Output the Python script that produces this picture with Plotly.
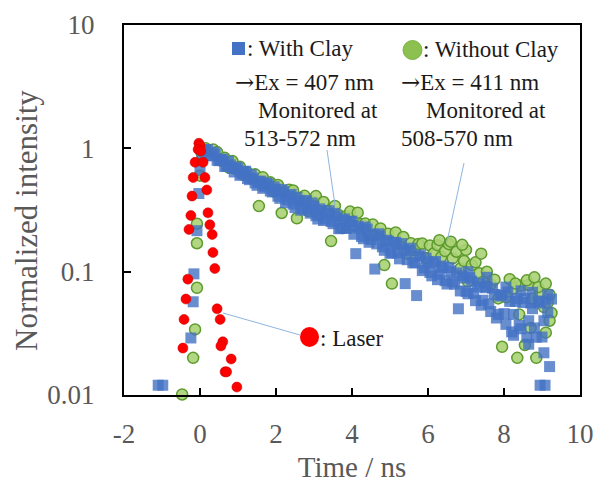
import plotly.graph_objects as go

# ---------------- data ----------------
laser_x = [-0.03, 0.0, -0.05, 0.02, -0.13, 0.08, -0.18, 0.13, 0.18, -0.21, -0.24, 0.21,
           0.26, -0.29, 0.32, 0.34, 0.39, -0.32, -0.37, 0.45, 0.53, -0.42, 0.6, 0.55,
           -0.45, 0.82, 0.66, 0.7, 0.97]
laser_y = [1.1, 1.05, 0.98, 0.95, 0.77, 0.77, 0.58, 0.58, 0.46, 0.41, 0.285, 0.30,
           0.24, 0.22, 0.20, 0.143, 0.106, 0.087, 0.060, 0.050, 0.041, 0.041, 0.027, 0.025,
           0.024, 0.0196, 0.0154, 0.0154, 0.0116]

clay_x = [-1.1, -0.98, -0.24, -0.18, -0.16, -0.08, -0.03, 0.0, 0.05,
          0.1, 0.2, 0.3, 0.4, 0.5, 0.6, 0.7, 0.8, 0.9, 1.0,
          1.1, 1.2, 1.3, 1.4, 1.5, 1.6, 1.7, 1.8, 1.9, 2.0,
          2.1, 2.2, 2.3, 2.4, 2.5, 2.6, 2.7, 2.8, 2.9, 3.0,
          3.1, 3.2, 3.3, 3.4, 3.5, 3.6, 3.7, 3.8, 3.9, 4.0,
          4.1, 4.2, 4.3, 4.4, 4.5, 4.6, 4.7, 4.8, 4.9, 5.0,
          5.1, 5.2, 5.3, 5.4, 5.5, 5.6, 5.7, 5.8, 5.9, 6.0,
          6.1, 6.2, 6.3, 6.4, 6.5, 6.6, 6.7, 6.8, 6.9, 7.0,
          7.1, 7.2, 7.3, 7.4, 7.5, 7.6, 7.7, 7.8, 7.9, 8.0,
          8.1, 8.2, 8.3, 8.4, 8.5, 8.6, 8.7, 8.8, 8.9, 9.0,
          9.1, 9.2,
          0.15, 0.25, 0.35, 0.45, 0.55, 0.65, 0.75, 0.85, 0.95, 1.05,
          1.15, 1.25, 1.35, 1.45, 1.55, 1.65, 1.75, 1.85, 1.95, 2.05,
          2.15, 2.25, 2.35, 2.45, 2.55, 2.65, 2.75, 2.85, 2.95, 3.05,
          3.15, 3.25, 3.35, 3.45, 3.55, 3.65, 3.75, 3.85, 3.95, 4.05,
          4.15, 4.25, 4.35, 4.45, 4.55, 4.65, 4.75, 4.85, 4.95, 5.05,
          5.15, 5.25, 5.35, 5.45, 5.55, 5.65, 5.75, 5.85, 5.95, 6.05,
          6.15, 6.25, 6.35, 6.45, 6.55, 6.65, 6.75, 6.85, 6.95, 7.05,
          7.15, 7.25, 7.35, 7.45, 7.55, 7.65, 7.75, 7.85, 7.95, 8.05,
          8.15, 8.25, 8.35, 8.45, 8.55, 8.65, 8.75, 8.85, 8.95, 9.05,
          9.15,
          8.95, 9.08, 9.25, 8.05, 8.45, 8.75, 9.15, 8.25, 8.65, 9.05, 7.55, 7.05]
clay_y = [0.012, 0.012, 0.029, 0.057, 0.096, 0.215, 0.43, 0.66, 0.85,
          0.955, 0.977, 0.871, 0.902, 0.794, 0.817, 0.714, 0.735, 0.643, 0.692,
          0.619, 0.652, 0.557, 0.573, 0.501, 0.542, 0.488, 0.515, 0.443, 0.468,
          0.393, 0.445, 0.382, 0.423, 0.331, 0.377, 0.325, 0.378, 0.298, 0.339,
          0.267, 0.310, 0.268, 0.312, 0.245, 0.279, 0.225, 0.268, 0.226, 0.257,
          0.140, 0.225, 0.185, 0.221, 0.182, 0.105, 0.203, 0.159, 0.180, 0.141,
          0.172, 0.142, 0.169, 0.080, 0.148, 0.118, 0.064, 0.137, 0.107, 0.120,
          0.0925, 0.121, 0.0951, 0.111, 0.0794, 0.101, 0.0791, 0.050, 0.0925, 0.0692,
          0.0895, 0.0667, 0.0752, 0.0535, 0.0741, 0.0547, 0.0735, 0.0421, 0.0634, 0.0457,
          0.0686, 0.0325, 0.0573, 0.0366, 0.0562, 0.0294, 0.0557, 0.035, 0.0578, 0.0295,
          0.0569, 0.017,
          0.977, 0.871, 0.929, 0.800, 0.815, 0.713, 0.785, 0.687, 0.706, 0.604,
          0.650, 0.569, 0.612, 0.524, 0.540, 0.474, 0.525, 0.451, 0.488, 0.409,
          0.463, 0.363, 0.411, 0.353, 0.401, 0.315, 0.367, 0.317, 0.361, 0.284,
          0.323, 0.260, 0.296, 0.255, 0.297, 0.223, 0.260, 0.224, 0.255, 0.201,
          0.234, 0.193, 0.230, 0.173, 0.200, 0.168, 0.195, 0.149, 0.177, 0.142,
          0.173, 0.127, 0.152, 0.125, 0.155, 0.118, 0.133, 0.102, 0.129, 0.0984,
          0.117, 0.0861, 0.107, 0.0845, 0.108, 0.0824, 0.0977, 0.0698, 0.0887, 0.0662,
          0.0838, 0.0582, 0.0807, 0.0587, 0.0757, 0.0475, 0.0653, 0.045, 0.0647, 0.0374,
          0.0574, 0.0305, 0.0604, 0.0344, 0.0608, 0.0258, 0.0501, 0.0294, 0.0557, 0.022,
          0.0466,
          0.012, 0.012, 0.060, 0.075, 0.070, 0.068, 0.065, 0.045, 0.040, 0.040, 0.090, 0.100]

noclay_x = [-0.47, -0.18, -0.13, -0.08, -0.08, -0.08, 0.0, 0.05,
            0.15, 0.25, 0.35, 0.45, 0.55, 0.65, 0.75, 0.85, 0.95, 1.05,
            1.15, 1.25, 1.35, 1.45, 1.55, 1.65, 1.75, 1.85, 1.95, 2.05,
            2.15, 2.25, 2.35, 2.45, 2.55, 2.65, 2.75, 2.85, 2.95, 3.05,
            3.15, 3.25, 3.35, 3.45, 3.55, 3.65, 3.75, 3.85, 3.95, 4.05,
            4.15, 4.25, 4.35, 4.45, 4.55, 4.65, 4.75, 4.85, 4.95, 5.05,
            5.15, 5.25, 5.35, 5.45, 5.55, 5.65, 5.75, 5.85, 5.95, 6.05,
            6.15, 6.25, 6.35, 6.45, 6.55, 6.65, 6.75, 6.85, 6.95, 7.05,
            7.15, 7.25, 7.35, 7.45, 7.55, 7.65, 7.75, 7.85, 7.95, 8.05,
            8.15, 8.25, 8.35, 8.45, 8.55, 8.65, 8.75, 8.85, 8.95, 9.05,
            9.15, 9.25,
            8.3, 8.6, 8.9, 9.2, 9.1, 8.8, 8.4, 9.2, 8.7, 9.1,
            6.3, 6.6, 7.0, 7.4, 6.9]
noclay_y = [0.0101, 0.020, 0.034, 0.074, 0.17, 0.245, 0.60, 0.90,
            1.0, 0.955, 0.977, 0.933, 0.796, 0.838, 0.700, 0.789, 0.675, 0.710,
            0.607, 0.638, 0.571, 0.615, 0.340, 0.583, 0.513, 0.530, 0.445, 0.504,
            0.299, 0.447, 0.461, 0.455, 0.271, 0.397, 0.412, 0.310, 0.369, 0.410,
            0.288, 0.367, 0.310, 0.177, 0.341, 0.288, 0.226, 0.282, 0.307, 0.236,
            0.301, 0.243, 0.246, 0.198, 0.241, 0.198, 0.224, 0.113, 0.203, 0.080,
            0.208, 0.168, 0.191, 0.140, 0.170, 0.149, 0.168, 0.169, 0.129, 0.163,
            0.141, 0.164, 0.132, 0.147, 0.167, 0.128, 0.145, 0.106, 0.122, 0.0834,
            0.113, 0.119, 0.097, 0.083, 0.0998, 0.0789, 0.0861, 0.0607, 0.0246, 0.0621,
            0.0869, 0.0733, 0.020, 0.0771, 0.0254, 0.078, 0.0603, 0.020, 0.0686, 0.0516,
            0.056, 0.0462,
            0.080, 0.085, 0.075, 0.065, 0.080, 0.090, 0.045, 0.040, 0.035, 0.032,
            0.180, 0.175, 0.150, 0.140, 0.165]

x_ticks = [-2, 0, 2, 4, 6, 8, 10]
x_ticktext = ["-2", "0", "2", "4", "6", "8", "10"]
y_ticks = [0.01, 0.1, 1, 10]
y_ticktext = ["0.01", "0.1", "1", "10"]

# ---------------- layout helpers ----------------
W, H = 597, 486
L, R, T, B = 124, 17, 25, 91
PW, PH = W - L - R, H - T - B


def px(xp):
    return (xp - L) / PW


def py(yp):
    return (H - B - yp) / PH


FONT = "Liberation Serif, Times New Roman, serif"
GRAY = "#595959"
BLUE = "#4472C4"
GREEN_FILL = "rgba(170,210,115,0.9)"
GREEN_LINE = "#5E9B2E"
LEADER = "#8DB4E2"

fig = go.Figure()
fig.add_trace(go.Scatter(
    x=noclay_x, y=noclay_y, mode="markers", name="Without Clay", cliponaxis=False,
    marker=dict(symbol="circle", size=11, color=GREEN_FILL, line=dict(width=1.5, color=GREEN_LINE))))
fig.add_trace(go.Scatter(
    x=clay_x, y=clay_y, mode="markers", name="With Clay", cliponaxis=False,
    marker=dict(symbol="square", size=11, color=BLUE, opacity=0.8, line=dict(width=0))))
fig.add_trace(go.Scatter(
    x=laser_x, y=laser_y, mode="markers", name="Laser", cliponaxis=False,
    marker=dict(symbol="circle", size=10, color="#FF0000", line=dict(width=0.5, color="#C00000"))))

axis_common = dict(
    showline=True, linewidth=2, linecolor="black", mirror=True,
    ticks="inside", tickwidth=2, tickcolor="black", ticklen=7,
    showgrid=False, zeroline=False,
    tickfont=dict(family=FONT, size=27, color=GRAY),
)

fig.update_layout(
    width=W, height=H,
    margin=dict(l=L, r=R, t=T, b=B, autoexpand=False),
    paper_bgcolor="white", plot_bgcolor="white",
    showlegend=False,
    font=dict(family=FONT),
    xaxis=dict(range=[-2, 10], tickvals=x_ticks, ticktext=x_ticktext, ticklabelstandoff=14,
               title=dict(text="Time / ns", font=dict(family=FONT, size=29, color=GRAY), standoff=8),
               **axis_common),
    yaxis=dict(type="log", range=[-2, 1], tickvals=y_ticks, ticktext=y_ticktext,
               ticklabelstandoff=22, **axis_common),
)

# y-axis title placed where the reference has it
fig.add_annotation(text="Normalized intensity", x=px(27), y=py(221), xref="paper", yref="paper",
                   xanchor="center", yanchor="middle", textangle=-90, showarrow=False,
                   font=dict(family=FONT, size=31, color=GRAY))

ARROW = "<span style='font-family:DejaVu Serif'>\u2192</span>"
texts = [
    (": With Clay", 245, 48),
    (ARROW + "Ex = 407 nm", 233, 82),
    ("Monitored at", 256, 110),
    ("513-572 nm", 242, 138),
    (": Without Clay", 421, 50),
    (ARROW + "Ex = 411 nm", 399, 82),
    ("Monitored at", 424, 110),
    ("508-570 nm", 399, 138),
    (": Laser", 318, 338),
]
for t, xl, yc in texts:
    fig.add_annotation(text=t, x=px(xl), y=py(yc), xref="paper", yref="paper",
                       xanchor="left", yanchor="middle", showarrow=False,
                       font=dict(family=FONT, size=23, color="#1a1a1a"))

shapes = [
    dict(type="rect", x0=px(232), x1=px(245), y0=py(55), y1=py(42),
         fillcolor=BLUE, line=dict(width=0)),
    dict(type="circle", x0=px(403), x1=px(422), y0=py(59.5), y1=py(40.5),
         fillcolor="#8CC152", line=dict(width=1, color="#7CB342")),
    dict(type="circle", x0=px(300), x1=px(319), y0=py(347), y1=py(327),
         fillcolor="#FF0000", line=dict(width=0)),
    dict(type="line", x0=px(327), y0=py(150), x1=px(335), y1=py(205),
         line=dict(width=1, color=LEADER)),
    dict(type="line", x0=px(464), y0=py(163), x1=px(447), y1=py(242),
         line=dict(width=1, color=LEADER)),
    dict(type="line", x0=px(223), y0=py(313), x1=px(300), y1=py(335),
         line=dict(width=1, color=LEADER)),
]
for s in shapes:
    fig.add_shape(xref="paper", yref="paper", **s)

fig.write_html("out.html")
